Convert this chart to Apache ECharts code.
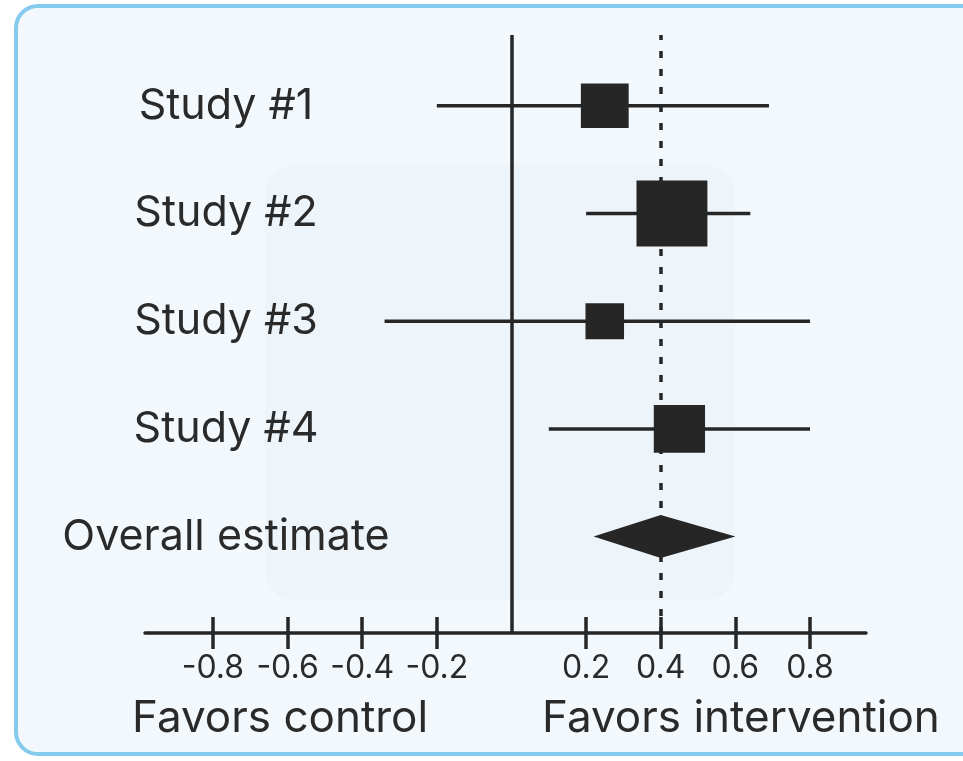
<!DOCTYPE html>
<html>
<head>
<meta charset="utf-8">
<script src="https://cdn.jsdelivr.net/npm/echarts@6/dist/echarts.min.js"></script>
<style>
html,body{margin:0;padding:0;background:#ffffff;}
#chart{width:963px;height:761px;}
</style>
</head>
<body>
<div id="chart"></div>
<script>
// ---- data ----
const rows = ["Study #1", "Study #2", "Study #3", "Study #4", "Overall estimate"];
const studyLower = [-0.2, 0.2, -0.34, 0.1];
const studyEstimate = [0.25, 0.43, 0.25, 0.45];
const studyUpper = [0.69, 0.64, 0.8, 0.8];
const studyWeight = [20, 44, 13, 23];
const overallLower = 0.22;
const overallEstimate = 0.4;
const overallUpper = 0.6;
const tickValues = [-0.8, -0.6, -0.4, -0.2, 0.2, 0.4, 0.6, 0.8];
const leftLabel = "Favors control";
const rightLabel = "Favors intervention";

// ---- chart ----
const INK = '#262626';
const TEXT = '#2a2a2a';
const FONT = 'Inter, "Noto Sans", sans-serif';
const LW = 3.5;
const maxW = Math.max.apply(null, studyWeight);
const MAX_SIZE = 68.5;

const studyData = rows.slice(0, 4).map((r, i) => [i, studyLower[i], studyEstimate[i], studyUpper[i], studyWeight[i]]);
const overallData = [[rows.length - 1, overallLower, overallEstimate, overallUpper]];
const rowIdx = rows.map((r, i) => i);

const chart = echarts.init(document.getElementById('chart'), null, {renderer: 'canvas'});
const gridBox = {left: 145, right: 97, top: 35, bottom: 128};
const xMin = -0.982, xMax = 0.95;
const yMin = -0.657, yMax = 4.895;

chart.setOption({
  animation: false,
  backgroundColor: '#ffffff',
  graphic: [
    {type: 'rect', z: -10, shape: {x: 16, y: 6, width: 1000, height: 748, r: 22},
     style: {fill: '#f3f8fc', stroke: '#84cbee', lineWidth: 4}},
    {type: 'rect', z: -9, shape: {x: 265, y: 165, width: 470, height: 435, r: 30},
     style: {fill: '#e8f1f9', opacity: 0.5}},
    {type: 'text', left: 132, top: 697, style: {text: leftLabel, font: '44px ' + FONT, fill: TEXT}},
    {type: 'text', left: 542, top: 697, style: {text: rightLabel, font: '44px ' + FONT, fill: TEXT}}
  ],
  grid: [
    Object.assign({}, gridBox),
    Object.assign({}, gridBox)
  ],
  xAxis: [
    {
      type: 'value', gridIndex: 0, min: xMin, max: xMax,
      axisLine: {show: true, onZero: false, lineStyle: {color: INK, width: LW}},
      axisTick: {show: true, customValues: tickValues, length: 16, lineStyle: {color: INK, width: LW}},
      axisLabel: {show: true, customValues: tickValues, margin: 19, fontSize: 32, fontFamily: FONT, color: TEXT,
                  formatter: v => String(v)},
      splitLine: {show: false}
    },
    {
      type: 'value', gridIndex: 1, min: xMin, max: xMax,
      axisLine: {show: false, onZero: false},
      axisTick: {show: true, inside: true, customValues: tickValues, length: 16, lineStyle: {color: INK, width: LW}},
      axisLabel: {show: false},
      splitLine: {show: false}
    }
  ],
  yAxis: [
    {
      type: 'value', gridIndex: 0, min: yMin, max: yMax, inverse: true,
      axisLine: {show: false, onZero: false}, axisTick: {show: false}, splitLine: {show: false},
      axisLabel: {show: true, customValues: rowIdx, formatter: v => rows[Math.round(v)] || '',
                  align: 'center', margin: -81, fontSize: 43, fontFamily: FONT, color: TEXT}
    },
    {
      type: 'value', gridIndex: 1, min: yMin, max: yMax, inverse: true, show: false
    }
  ],
  series: [
    {
      type: 'line', xAxisIndex: 0, yAxisIndex: 0, data: [], silent: true,
      markLine: {
        silent: true, symbol: ['none', 'none'], label: {show: false},
        data: [
          {xAxis: 0, lineStyle: {color: INK, width: LW, type: 'solid'}},
          {xAxis: overallEstimate, lineStyle: {color: INK, width: LW, type: [7, 11], dashOffset: 2}}
        ]
      }
    },
    {
      type: 'custom', xAxisIndex: 0, yAxisIndex: 0, z: 5,
      data: studyData,
      encode: {x: [1, 2, 3], y: 0},
      renderItem: function (params, api) {
        const r = api.value(0);
        const lo = api.coord([api.value(1), r]);
        const mid = api.coord([api.value(2), r]);
        const hi = api.coord([api.value(3), r]);
        const s = Math.sqrt(api.value(4) / maxW) * MAX_SIZE;
        const w = s * 1.035, h = s * 0.965;
        return {
          type: 'group',
          children: [
            {type: 'line', shape: {x1: lo[0], y1: lo[1], x2: hi[0], y2: hi[1]}, style: {stroke: INK, lineWidth: LW}},
            {type: 'rect', shape: {x: mid[0] - w / 2, y: mid[1] - h / 2, width: w, height: h}, style: {fill: INK}}
          ]
        };
      }
    },
    {
      type: 'custom', xAxisIndex: 0, yAxisIndex: 0, z: 5,
      data: overallData,
      encode: {x: [1, 2, 3], y: 0},
      renderItem: function (params, api) {
        const r = api.value(0);
        const lo = api.coord([api.value(1), r]);
        const mid = api.coord([api.value(2), r]);
        const hi = api.coord([api.value(3), r]);
        const hh = 21.5;
        return {
          type: 'polygon',
          shape: {points: [[lo[0], lo[1]], [mid[0], mid[1] - hh], [hi[0], hi[1]], [mid[0], mid[1] + hh]]},
          style: {fill: INK}
        };
      }
    }
  ]
});
</script>
</body>
</html>
